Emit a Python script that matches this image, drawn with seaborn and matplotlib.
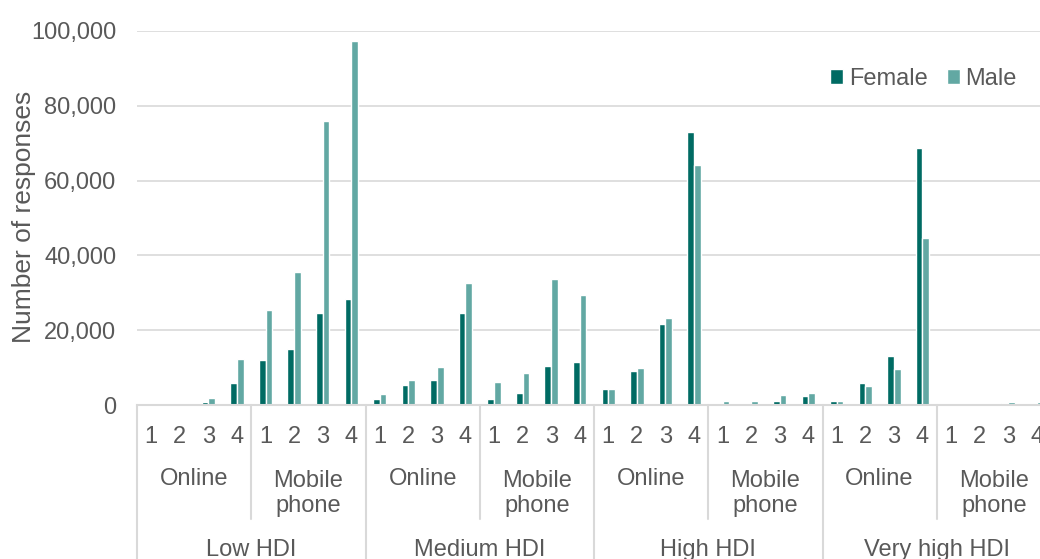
import matplotlib
matplotlib.use("Agg")
import matplotlib.pyplot as plt
import matplotlib.transforms as mtransforms
from matplotlib.ticker import FuncFormatter, MultipleLocator
import pandas as pd
import seaborn as sns

# Data
hdi_groups = ["Low HDI", "Medium HDI", "High HDI", "Very high HDI"]
channels = ["Online", "Mobile\nphone"]
levels = ["1", "2", "3", "4"]

female = [
    150, 300, 700, 6000,        # Low HDI - Online
    12000, 14900, 24500, 28300,  # Low HDI - Mobile phone
    1600, 5300, 6700, 24600,    # Medium HDI - Online
    1700, 3200, 10400, 11500,   # Medium HDI - Mobile phone
    4400, 9000, 21600, 72900,   # High HDI - Online
    300, 400, 1200, 2400,       # High HDI - Mobile phone
    1100, 6000, 13000, 68800,   # Very high HDI - Online
    100, 100, 500, 400,         # Very high HDI - Mobile phone
]
male = [
    400, 400, 1800, 12300,
    25300, 35500, 76000, 97200,
    2900, 6800, 10100, 32500,
    6100, 8500, 33600, 29500,
    4300, 9800, 23200, 64200,
    1100, 1000, 2700, 3100,
    1200, 5200, 9600, 44600,
    300, 300, 900, 800,
]

female_color = "#006B63"
male_color = "#62A8A3"
text_color = "#595959"
line_color = "#D9D9D9"

# Long table for seaborn
rows = []
order = []
i = 0
for h in hdi_groups:
    for c in channels:
        for lv in levels:
            key = f"{h}|{c}|{lv}"
            order.append(key)
            rows.append({"pos": key, "sex": "Female", "count": female[i]})
            rows.append({"pos": key, "sex": "Male", "count": male[i]})
            i += 1
df = pd.DataFrame(rows)

sns.set_style("white")
plt.rcParams["font.family"] = ["Liberation Sans", "DejaVu Sans"]

W, H = 1040, 559
fig = plt.figure(figsize=(W / 100, H / 100), dpi=100)
# axes runs a little past the right edge, as in the (cropped) reference
ax = fig.add_axes([137 / W, 154 / H, 914 / W, 374 / H])

sns.barplot(
    data=df, x="pos", y="count", hue="sex",
    order=order, hue_order=["Female", "Male"],
    palette=[female_color, male_color], saturation=1,
    width=0.47, ax=ax,
)

n = len(order)
ax.set_xlim(-0.5, n - 0.5)
ax.set_ylim(0, 100000)
ax.yaxis.set_major_locator(MultipleLocator(20000))
ax.yaxis.set_major_formatter(FuncFormatter(lambda v, p: f"{v:,.0f}"))
ax.grid(axis="y", color=line_color, linewidth=1.2)
ax.set_axisbelow(True)
for s in ["top", "right", "left"]:
    ax.spines[s].set_visible(False)
ax.spines["bottom"].set_color(line_color)
ax.spines["bottom"].set_linewidth(1.5)
ax.tick_params(axis="y", length=0, pad=15, labelsize=17, labelcolor=text_color)
ax.tick_params(axis="x", bottom=False, labelbottom=False)
ax.set_xlabel("")
ax.set_ylabel("")

fig.text(24 / W, 1 - 217 / H, "Number of responses", rotation=90,
         ha="center", va="center", fontsize=19, color=text_color)

# multi-level category axis
blend = mtransforms.blended_transform_factory(ax.transData, fig.transFigure)
for k in range(n):
    ax.text(k, 1 - 443 / H, levels[k % 4], transform=blend, ha="center",
            va="baseline", fontsize=17, color=text_color, clip_on=False)

for g, h in enumerate(hdi_groups):
    start = g * 8
    for ci, c in enumerate(channels):
        cx = start + ci * 4 + 1.5
        # baseline of the last line; two-line labels start at the same height
        base = 485 if "\n" not in c else 512
        ax.text(cx, 1 - base / H, c, transform=blend, ha="center", va="baseline",
                fontsize=17, color=text_color, linespacing=1.15, clip_on=False)
    ax.text(start + 3.5, 1 - 556 / H, h, transform=blend, ha="center",
            va="baseline", fontsize=17, color=text_color, clip_on=False)

# vertical separators
for b in [-0.5, 7.5, 15.5, 23.5, 31.5]:
    ax.plot([b, b], [1 - 405 / H, 0], transform=blend, color=line_color,
            linewidth=1.5, clip_on=False)
for b in [3.5, 11.5, 19.5, 27.5]:
    ax.plot([b, b], [1 - 405 / H, 1 - 519 / H], transform=blend, color=line_color,
            linewidth=1.5, clip_on=False)

leg = ax.legend(loc="center right", bbox_to_anchor=(0.973, 0.872), ncol=2,
                frameon=False, fontsize=17, handlelength=0.55, handleheight=0.55,
                handletextpad=0.25, columnspacing=0.8, borderaxespad=0)
for t in leg.get_texts():
    t.set_color(text_color)

fig.savefig("out.png", dpi=100)
